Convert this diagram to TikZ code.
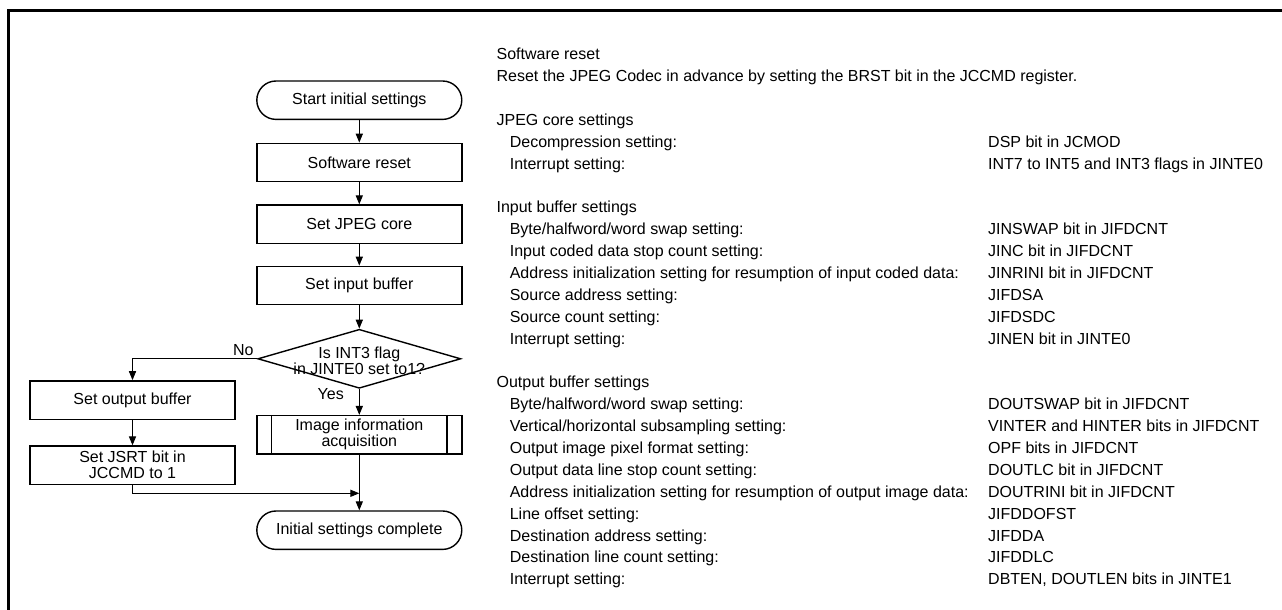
\documentclass[tikz,border=0pt]{standalone}
\usepackage{fontspec}
\setmainfont{Liberation Sans}
\usetikzlibrary{shapes, arrows.meta, positioning}

\newcommand{\ind}{\hspace*{6.6pt}}

\begin{document}
\begin{tikzpicture}[x=0.5pt, y=-0.5pt, font=\fontsize{8}{8}\selectfont,
  >={Triangle[length=4.5pt, width=3.6pt]},
  term/.style={draw, rectangle, rounded corners=9.6pt, minimum width=102.5pt, minimum height=19.2pt, line width=0.7pt},
  box/.style={draw, rectangle, minimum width=102.5pt, minimum height=19.2pt, align=center, inner sep=1pt, line width=0.7pt},
  decision/.style={draw, diamond, minimum width=101.5pt, minimum height=29.5pt, inner sep=0pt, line width=0.7pt},
  flow/.style={->, line width=0.5pt}]
\useasboundingbox (0,0) rectangle (1282,610);

% frame (top and left edges only)
\draw[line width=1.5pt] (8.7,615) -- (8.7,10.8) -- (1290,10.8);

% main flow
\node[term] (start) at (359.3,100.2) {Start initial settings};
\node[box] (reset) at (359.3,162.5) {Software reset};
\node[box] (core) at (359.3,224.2) {Set JPEG core};
\node[box] (inbuf) at (359.3,285.5) {Set input buffer};
\node[decision, label={[align=center, yshift=-1pt]center:{Is INT3 flag\\in JINTE0 set to1?}}] (check) at (359.3,358.8) {};
\node[box] (imginfo) at (359.3,434.8) {Image information\\acquisition};
\node[term] (done) at (359.3,530.2) {Initial settings complete};

% branch for No
\node[box] (outbuf) at (132.5,400) {Set output buffer};
\node[box] (jsrt) at (132.5,465.2) {Set JSRT bit in\\JCCMD to 1};
\coordinate (merge) at (359.3,493.3);

% predefined process side bars
\draw[line width=0.7pt] ([xshift=7.8pt]imginfo.north west) -- ([xshift=7.8pt]imginfo.south west);
\draw[line width=0.7pt] ([xshift=-7.8pt]imginfo.north east) -- ([xshift=-7.8pt]imginfo.south east);

\draw[flow] (start) -- (reset);
\draw[flow] (reset) -- (core);
\draw[flow] (core) -- (inbuf);
\draw[flow] (inbuf) -- (check);
\draw[flow] (check.west) node[above left, inner sep=1.5pt] {No} -| (outbuf.north);
\draw[flow] (check.south) node[anchor=north east, inner sep=0pt, xshift=-7.5pt, yshift=0.5pt] {Yes} -- (imginfo.north);
\draw[flow] (imginfo) -- (done);
\draw[flow] (outbuf) -- (jsrt);
\draw[flow] (jsrt.south) |- (merge);

% register notes
\node[anchor=base west, inner sep=0pt, font=\fontsize{8}{10.94}\selectfont] (notes) at (496.2,59.7) {%
\begin{tabular}[t]{@{}p{245.8pt}@{}l@{}}
\multicolumn{2}{@{}l@{}}{Software reset}\\
\multicolumn{2}{@{}l@{}}{Reset the JPEG Codec in advance by setting the BRST bit in the JCCMD register.}\\
\\
JPEG core settings\\
\ind Decompression setting: & DSP bit in JCMOD\\
\ind Interrupt setting: & INT7 to INT5 and INT3 flags in JINTE0\\
\\
Input buffer settings\\
\ind Byte/halfword/word swap setting: & JINSWAP bit in JIFDCNT\\
\ind Input coded data stop count setting: & JINC bit in JIFDCNT\\
\ind Address initialization setting for resumption of input coded data: & JINRINI bit in JIFDCNT\\
\ind Source address setting: & JIFDSA\\
\ind Source count setting: & JIFDSDC\\
\ind Interrupt setting: & JINEN bit in JINTE0\\
\\
Output buffer settings\\
\ind Byte/halfword/word swap setting: & DOUTSWAP bit in JIFDCNT\\
\ind Vertical/horizontal subsampling setting: & VINTER and HINTER bits in JIFDCNT\\
\ind Output image pixel format setting: & OPF bits in JIFDCNT\\
\ind Output data line stop count setting: & DOUTLC bit in JIFDCNT\\
\ind Address initialization setting for resumption of output image data: & DOUTRINI bit in JIFDCNT\\
\ind Line offset setting: & JIFDDOFST\\
\ind Destination address setting: & JIFDDA\\
\ind Destination line count setting: & JIFDDLC\\
\ind Interrupt setting: & DBTEN, DOUTLEN bits in JINTE1
\end{tabular}};
\end{tikzpicture}
\end{document}
